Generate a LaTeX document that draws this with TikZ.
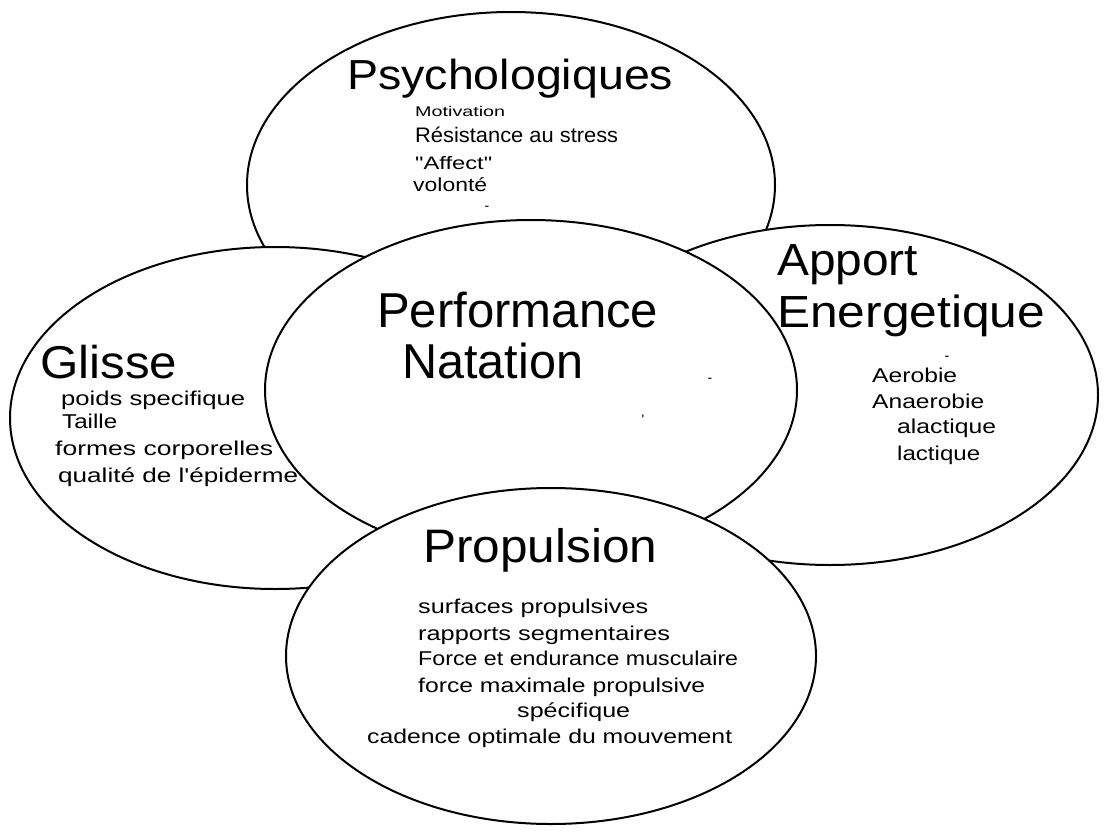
\documentclass[tikz,border=0pt]{standalone}
\usepackage{fontspec}
\setmainfont{Liberation Sans}
\usetikzlibrary{shapes.geometric}
% one line of text at a given size, stretched to a given width
\newcommand{\fitline}[3]{{\fontsize{#1}{#1}\selectfont\resizebox{#2pt}{\height}{#3}}}
\begin{document}
\begin{tikzpicture}[x=1pt,y=-1pt,
  zone/.style={ellipse, draw=black, line width=2pt, fill=white, inner sep=0pt},
  lbl/.style={anchor=base west, inner sep=0pt, text=black},
  speck/.style={anchor=base, inner sep=0pt, text=black, font=\fontsize{14}{14}\selectfont}]
\useasboundingbox (0,0) rectangle (1106,832);
\fill[white] (0,0) rectangle (1106,832);

% the five zones, back to front
\node[zone, minimum width=528pt, minimum height=346pt] (psy)  at (511,185) {};
\node[zone, minimum width=530pt, minimum height=342pt] (gli)  at (275,418) {};
\node[zone, minimum width=536pt, minimum height=340pt] (nrj)  at (830,395) {};
\node[zone, minimum width=532pt, minimum height=340pt] (perf) at (531,390) {};
\node[zone, minimum width=530pt, minimum height=336pt] (prop) at (551,656) {};

% Psychologiques
\node[lbl] (psyT) at (347,90)  {\fitline{42}{326}{Psychologiques}};
\node[lbl] (psy1) at (415,117) {\fitline{14}{90}{Motivation}};
\node[lbl] (psy2) at (415,143) {\fitline{21}{203}{Résistance au stress}};
\node[lbl] (psy3) at (415,170) {\fitline{18}{77}{\textquotedbl Affect\textquotedbl}};
\node[lbl] (psy4) at (413,192) {\fitline{19}{74}{volonté}};
\node[speck] (psy5) at (487,210) {-};

% Glisse
\node[lbl] (gliT) at (40,378)  {\fitline{46}{137}{Glisse}};
\node[lbl] (gli1) at (61,405)  {\fitline{20}{184}{poids specifique}};
\node[lbl] (gli2) at (62,428)  {\fitline{20}{55}{Taille}};
\node[lbl] (gli3) at (55,455)  {\fitline{20}{218}{formes corporelles}};
\node[lbl] (gli4) at (58,482)  {\fitline{20}{240}{qualité de l\textquotesingle épiderme}};

% Apport energetique
\node[lbl] (nrjT) at (777,275) {\fitline{45}{141}{Apport}};
\node[lbl] (nrjU) at (777,327) {\fitline{45}{268}{Energetique}};
\node[speck] (nrj0) at (947,360) {-};
\node[lbl] (nrj1) at (872,382) {\fitline{20}{85}{Aerobie}};
\node[lbl] (nrj2) at (872,408) {\fitline{20}{112}{Anaerobie}};
\node[lbl] (nrj3) at (897,433) {\fitline{20}{99}{alactique}};
\node[lbl] (nrj4) at (897,460) {\fitline{20}{83}{lactique}};

% Performance natation
\node[lbl] (perfT) at (377,327) {\fitline{49}{281}{Performance}};
\node[lbl] (perfU) at (402,378) {\fitline{49}{181}{Natation}};
\node[speck] (perf1) at (710,382) {-};
\node[speck] (perf2) at (643,424) {\textquotesingle};

% Propulsion
\node[lbl] (propT) at (423,562) {\fitline{47}{234}{Propulsion}};
\node[lbl] (prop1) at (418,613) {\fitline{20}{230}{surfaces propulsives}};
\node[lbl] (prop2) at (418,640) {\fitline{20}{252}{rapports segmentaires}};
\node[lbl] (prop3) at (418,665) {\fitline{20}{320}{Force et endurance musculaire}};
\node[lbl] (prop4) at (418,692) {\fitline{20}{287}{force maximale propulsive}};
\node[lbl] (prop5) at (517,717) {\fitline{20}{113}{spécifique}};
\node[lbl] (prop6) at (367,743) {\fitline{20}{365}{cadence optimale du mouvement}};
\end{tikzpicture}
\end{document}
